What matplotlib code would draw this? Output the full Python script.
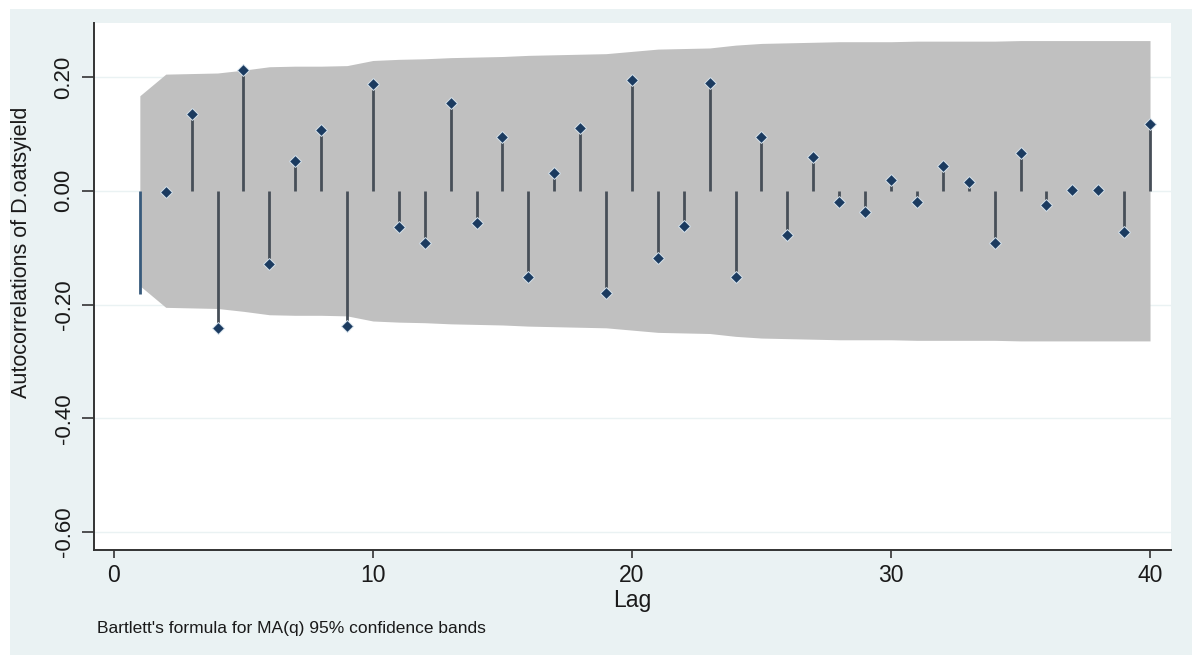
import numpy as np
import matplotlib
matplotlib.use('Agg')
import matplotlib.pyplot as plt
from matplotlib.patches import Rectangle

plt.rcParams['font.family'] = ['Liberation Sans', 'DejaVu Sans']
plt.rcParams['axes.unicode_minus'] = False

# Autocorrelations of the differenced oats yield, lags 1-40
lags = np.arange(1, 41)
acf_values = [-0.181, -0.003, 0.135, -0.241, 0.212, -0.129, 0.052, 0.107, -0.237, 0.187,
              -0.064, -0.091, 0.155, -0.057, 0.094, -0.151, 0.032, 0.110, -0.180, 0.195,
              -0.118, -0.062, 0.190, -0.151, 0.094, -0.078, 0.059, -0.019, -0.038, 0.019,
              -0.019, 0.043, 0.016, -0.091, 0.067, -0.025, 0.002, 0.002, -0.073, 0.117]

# Bartlett 95% band half-width at each lag
band_halfwidth = [0.167, 0.205, 0.206, 0.207, 0.212, 0.218, 0.219, 0.219, 0.220, 0.229,
                  0.231, 0.232, 0.234, 0.235, 0.236, 0.238, 0.239, 0.240, 0.241, 0.245,
                  0.249, 0.250, 0.251, 0.256, 0.259, 0.260, 0.261, 0.262, 0.262, 0.262,
                  0.263, 0.263, 0.263, 0.263, 0.264, 0.264, 0.264, 0.264, 0.264, 0.264]

xticks = [0, 10, 20, 30, 40]
yticks = [-0.6, -0.4, -0.2, 0.0, 0.2]
ytick_labels = ['-0.60', '-0.40', '-0.20', '0.00', '0.20']

W, H = 1198, 657
fig = plt.figure(figsize=(W / 100, H / 100), dpi=100)
fig.patch.set_facecolor('white')

# light blue graph region inside a thin white border
fig.patches.append(Rectangle((10 / W, 1 - 655 / H), 1182 / W, 646 / H,
                             transform=fig.transFigure, facecolor='#eaf2f3',
                             edgecolor='none', zorder=-5))

ax = fig.add_axes([94 / W, 1 - 550 / H, 1077 / W, 527 / H])
ax.set_facecolor('white')

band = np.array(band_halfwidth)
ax.fill_between(lags, -band, band, color='#c0c0c0', linewidth=0, zorder=1)

acf = np.array(acf_values)
ax.vlines(lags[:1], 0, acf[:1], color='#37597b', linewidth=2.0, zorder=2)
ax.vlines(lags[1:], 0, acf[1:], color='#474f58', linewidth=2.0, zorder=2)
ax.plot(lags[1:], acf[1:], linestyle='none', marker='D', markersize=6.5,
        markerfacecolor='#1b3b60', markeredgecolor='#d6e2ec', markeredgewidth=0.7,
        zorder=3)

ax.set_xlim(-0.77, 40.81)
ax.set_ylim(-0.6316, 0.2949)

ax.set_yticks(yticks)
ax.set_yticklabels(ytick_labels, rotation=90, va='center')
ax.set_xticks(xticks)

ax.yaxis.grid(True, color='#eaf2f3', linewidth=1.0)
ax.set_axisbelow(True)

for side in ['top', 'right']:
    ax.spines[side].set_visible(False)
for side in ['left', 'bottom']:
    ax.spines[side].set_color('#333333')
    ax.spines[side].set_linewidth(1.4)

ax.tick_params(axis='y', length=9, width=1.2, color='#333333', labelsize=16,
               pad=5, labelcolor='#1a1a1a')
ax.tick_params(axis='x', length=6, width=1.2, color='#333333', labelsize=16.5,
               pad=4, labelcolor='#1a1a1a')

fig.text(632 / W, 1 - 600 / H, 'Lag', ha='center', va='center',
         fontsize=16.5, color='#1a1a1a')
fig.text(22 / W, 1 - 252 / H, 'Autocorrelations of D.oatsyield', rotation=90,
         ha='center', va='center', fontsize=15.5, color='#1a1a1a')
fig.text(97 / W, 1 - 629 / H, "Bartlett's formula for MA(q) 95% confidence bands",
         ha='left', va='center', fontsize=12.5, color='#1a1a1a')

fig.savefig('out.png', dpi=100, facecolor=fig.get_facecolor())
